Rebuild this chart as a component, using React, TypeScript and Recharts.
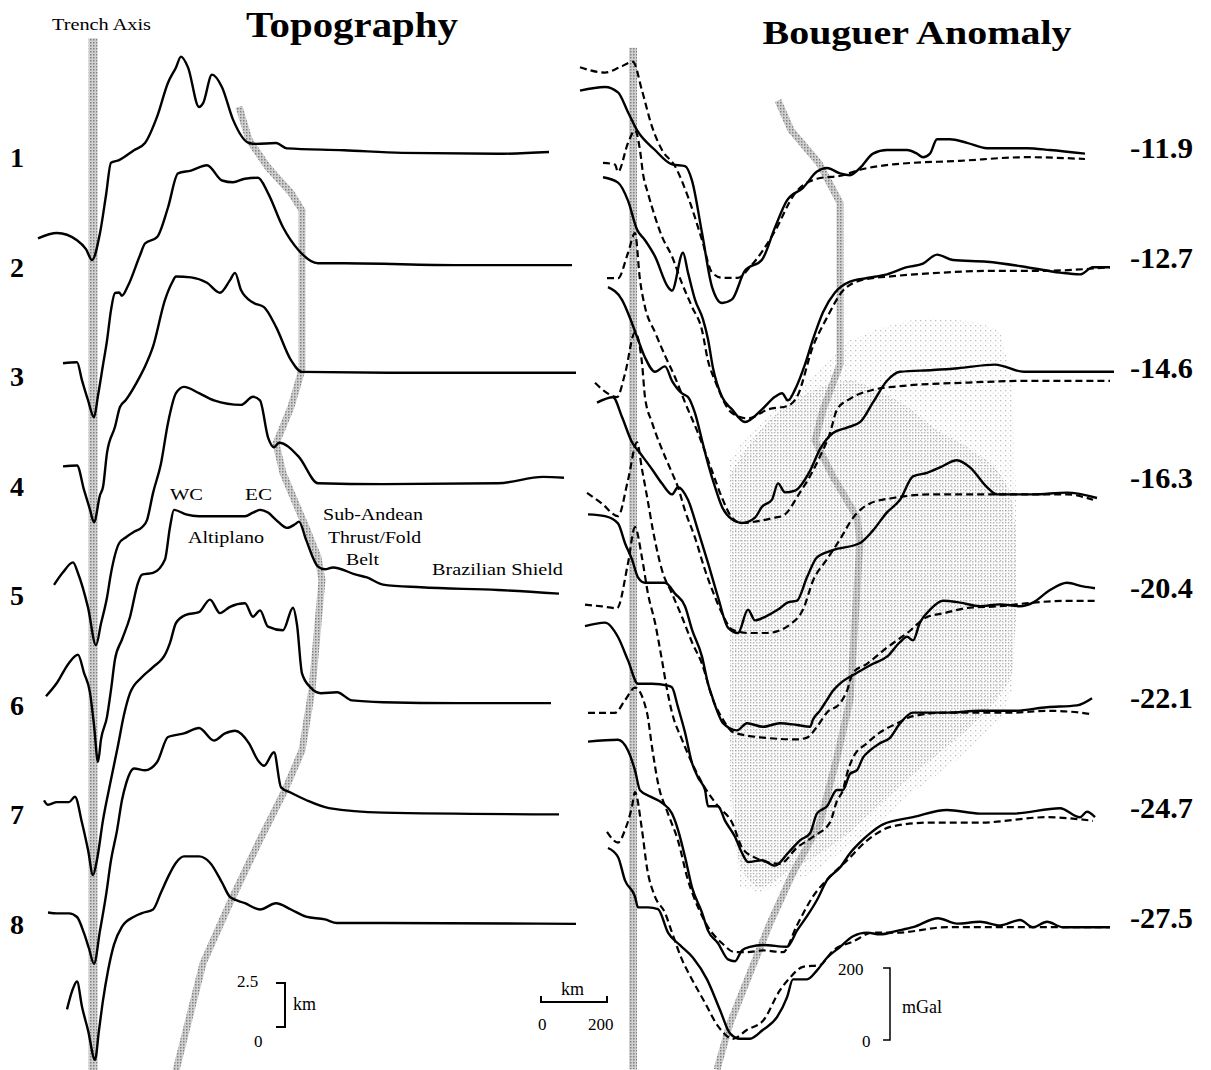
import { Area, ComposedChart, Line, XAxis, YAxis } from "recharts"

type Pt = [number, number]

// topography profiles: [distance from trench (km), elevation (km)]
const topo1: Pt[] = [[-165,-4.6],[-108,-4.3],[-48,-4.7],[-21,-5.2],[-3,-5.8],[21,-4.3],[39,-2.2],[54,-0.4],[78,-0.25],[123,0.3],[156,0.7],[192,2.15],[225,4.05],[249,4.9],[264,5.5],[285,4.9],[318,2.7],[330,2.9],[357,4.5],[387,3.8],[420,2.0],[468,0.7],[489,0.65],[549,0.7],[582,0.4],[753,0.3],[927,0.15],[1215,0.1],[1368,0.2]]
const topo2: Pt[] = [[-90,-5.4],[-48,-5.35],[-33,-6.35],[-15,-7.45],[3,-8.4],[15,-7.2],[30,-5.5],[42,-4.15],[54,-2.45],[66,-1.5],[78,-1.47],[87,-1.65],[105,-1.1],[141,0.6],[156,1.25],[192,1.6],[225,3.25],[255,5.15],[294,5.3],[342,5.6],[387,4.75],[420,4.65],[456,4.85],[495,4.9],[525,4.05],[570,2.15],[618,0.85],[675,0.15],[753,0.15],[1098,0.05],[1437,0.05]]
const topo3: Pt[] = [[-90,-5.0],[-48,-4.95],[-27,-6.3],[-9,-7.4],[3,-8.1],[21,-6.6],[30,-6.15],[42,-4.25],[66,-2.8],[81,-1.7],[99,-1.3],[141,0.0],[156,0.55],[180,1.65],[216,4.25],[237,5.2],[249,5.55],[294,5.5],[342,5.2],[381,4.65],[411,5.35],[426,5.75],[444,4.8],[480,4.1],[513,3.85],[549,2.75],[594,0.9],[627,0.25],[921,0.2],[1449,0.2]]
const topo4: Pt[] = [[-117,-5.45],[-90,-4.75],[-60,-4.2],[-45,-4.8],[-15,-6.7],[9,-8.8],[24,-7.6],[42,-6.15],[54,-4.8],[78,-3.15],[99,-2.8],[123,-2.5],[147,-2.25],[162,-1.85],[180,-0.35],[204,1.3],[225,3.55],[249,5.2],[273,5.55],[318,5.2],[363,4.8],[444,4.55],[480,5.0],[501,4.8],[525,2.75],[543,2.2],[558,2.45],[618,1.65],[675,0.2],[870,0.15],[1215,0.2],[1350,0.55],[1413,0.5]]
const topo5: Pt[] = [[-141,-5.5],[-108,-4.75],[-72,-3.65],[-45,-3.2],[-27,-4.2],[-9,-5.3],[3,-7.1],[15,-9.15],[24,-7.9],[42,-6.65],[54,-5.15],[66,-3.45],[87,-2.35],[111,-1.1],[135,0.8],[147,1.25],[180,1.35],[216,2.1],[231,3.9],[243,4.85],[279,4.6],[318,4.5],[411,4.5],[456,4.5],[480,4.7],[501,4.85],[525,4.7],[549,4.3],[582,3.85],[606,4.05],[618,4.2],[639,3.2],[675,1.7],[696,1.55],[720,1.65],[789,1.25],[822,1.1],[870,0.7],[984,0.55],[1215,0.4],[1398,0.2]]
const topo6: Pt[] = [[-147,-5.15],[-135,-5.4],[-108,-5.25],[-72,-5.25],[-54,-4.95],[-33,-6.4],[-15,-7.9],[0,-9.3],[12,-8.45],[30,-6.25],[54,-4.0],[75,-2.1],[93,-0.4],[111,0.8],[147,1.7],[180,2.25],[219,3.05],[231,3.6],[249,4.7],[279,5.15],[318,5.3],[351,6.0],[381,5.25],[411,5.6],[456,5.8],[480,5.05],[501,5.4],[525,4.5],[570,4.3],[600,5.55],[612,4.6],[627,1.9],[651,1.15],[684,0.8],[732,0.85],[777,0.4],[870,0.3],[1098,0.25],[1374,0.25]]
const topo7: Pt[] = [[-135,-5.25],[-108,-5.3],[-72,-5.3],[-48,-5.5],[-27,-6.4],[-12,-7.25],[3,-8.1],[21,-6.25],[39,-4.3],[54,-2.35],[72,-0.7],[87,1.0],[99,1.9],[123,2.75],[156,2.65],[192,3.1],[225,4.5],[246,4.6],[273,4.7],[318,5.0],[363,4.3],[396,4.7],[426,4.85],[468,4.15],[495,3.2],[513,2.9],[543,3.65],[564,1.7],[594,1.4],[639,1.0],[708,0.55],[870,0.3],[1398,0.2]]
const topo8: Pt[] = [[-78,-4.5],[-63,-3.5],[-48,-2.95],[-33,-4.35],[-15,-5.65],[6,-7.3],[18,-5.65],[30,-4.0],[45,-2.35],[63,-0.9],[87,0.1],[123,0.65],[147,0.85],[180,1.05],[204,2.0],[225,2.85],[249,3.65],[273,4.0],[318,4.0],[351,3.65],[387,2.55],[411,1.75],[456,1.4],[501,1.05],[549,1.4],[594,1.05],[639,0.65],[696,0.5],[732,0.3],[870,0.3],[1449,0.25]]
const topoProfiles = [topo1, topo2, topo3, topo4, topo5, topo6, topo7, topo8]
const profileNames = ["1", "2", "3", "4", "5", "6", "7", "8"]

// Bouguer anomaly: [distance from trench (km), mGal], observed and model
const boug1Obs: Pt[] = [[-159,165],[-84,175],[-45,160],[-15,105],[12,55],[66,0],[117,-40],[156,-45],[177,-85],[207,-230],[237,-380],[267,-425],[297,-415],[336,-335],[387,-305],[426,-215],[462,-140],[510,-105],[552,-60],[582,-50],[621,-65],[651,-70],[681,-50],[720,-10],[762,0],[822,0],[852,-10],[870,-20],[891,-10],[912,30],[951,30],[1002,20],[1062,5],[1182,5],[1251,0],[1356,-10]]
const boug1Mod: Pt[] = [[-159,230],[-84,215],[-39,230],[0,245],[27,165],[57,65],[87,0],[126,-45],[165,-130],[207,-250],[237,-340],[267,-355],[315,-355],[351,-325],[423,-230],[486,-120],[552,-80],[630,-70],[681,-55],[780,-40],[981,-30],[1182,-20],[1356,-25]]
const boug2Obs: Pt[] = [[-90,230],[-45,215],[-15,165],[12,85],[36,55],[66,10],[105,-75],[117,-85],[150,20],[165,-35],[186,-110],[210,-165],[225,-220],[240,-300],[267,-380],[297,-415],[336,-450],[387,-415],[426,-380],[447,-370],[465,-390],[486,-360],[516,-290],[540,-220],[570,-145],[606,-90],[651,-60],[702,-50],[762,-40],[822,-20],[870,-10],[912,15],[960,0],[1062,-5],[1182,-20],[1281,-35],[1341,-40],[1380,-20],[1431,-20]]
const boug2Mod: Pt[] = [[-90,270],[-54,265],[-45,245],[-15,325],[6,360],[21,305],[30,240],[45,185],[66,120],[87,65],[117,10],[147,-65],[177,-130],[207,-195],[225,-280],[246,-335],[297,-425],[345,-440],[405,-415],[465,-405],[492,-380],[540,-240],[582,-160],[630,-85],[690,-55],[780,-45],[930,-35],[1080,-30],[1230,-30],[1431,-20]]
const boug3Obs: Pt[] = [[-75,230],[-33,195],[-3,130],[15,85],[36,35],[66,-5],[96,10],[117,-30],[147,-65],[165,-75],[186,-120],[207,-195],[225,-260],[246,-325],[267,-380],[297,-415],[327,-425],[366,-410],[387,-380],[417,-360],[435,-315],[456,-340],[486,-335],[531,-280],[561,-220],[600,-175],[642,-160],[681,-145],[720,-90],[762,-30],[801,-5],[900,0],[975,5],[1086,15],[1173,-5],[1281,-5],[1443,-5]]
const boug3Mod: Pt[] = [[-78,255],[-45,255],[-15,325],[6,380],[21,250],[36,175],[66,105],[96,40],[126,-20],[156,-90],[195,-175],[237,-280],[267,-355],[297,-410],[327,-425],[375,-420],[426,-410],[450,-405],[501,-340],[531,-295],[561,-240],[591,-175],[612,-110],[651,-80],[720,-55],[801,-45],[1002,-35],[1200,-30],[1431,-30]]
const boug4Obs: Pt[] = [[-108,215],[-60,230],[-33,175],[-3,105],[21,75],[57,30],[87,-10],[117,-40],[135,-20],[165,-55],[195,-140],[225,-230],[255,-325],[285,-410],[315,-425],[345,-360],[366,-390],[396,-380],[435,-360],[465,-340],[492,-335],[522,-270],[552,-215],[600,-195],[681,-175],[720,-140],[762,-90],[801,-55],[840,10],[882,20],[921,35],[972,55],[1011,35],[1062,-20],[1092,-40],[1200,-40],[1302,-35],[1392,-50]]
const boug4Mod: Pt[] = [[-114,270],[-75,240],[-48,230],[-24,295],[6,410],[27,325],[36,230],[57,160],[87,85],[117,20],[135,-20],[156,-85],[186,-160],[216,-250],[246,-325],[267,-370],[297,-415],[345,-425],[402,-425],[480,-395],[510,-360],[540,-280],[582,-220],[621,-165],[660,-105],[711,-65],[780,-50],[900,-40],[1101,-40],[1302,-40],[1380,-55]]
const boug5Obs: Pt[] = [[-135,210],[-84,205],[-45,185],[-24,130],[-3,85],[15,35],[36,20],[96,20],[126,-10],[156,-45],[177,-110],[207,-185],[225,-260],[237,-295],[252,-335],[270,-370],[312,-390],[342,-370],[390,-380],[441,-370],[492,-375],[531,-380],[540,-360],[561,-335],[582,-305],[600,-280],[621,-260],[672,-230],[720,-205],[762,-185],[801,-145],[822,-130],[840,-140],[861,-90],[891,-55],[930,-30],[981,-35],[1041,-45],[1101,-40],[1161,-45],[1200,-35],[1251,0],[1302,20],[1350,10],[1386,5]]
const boug5Mod: Pt[] = [[-138,270],[-93,240],[-45,205],[-15,305],[12,410],[27,335],[42,260],[60,165],[87,55],[117,-10],[147,-75],[177,-145],[207,-205],[240,-305],[270,-360],[300,-395],[390,-410],[492,-415],[522,-410],[552,-380],[582,-340],[621,-315],[642,-280],[660,-230],[702,-205],[762,-160],[822,-120],[882,-75],[930,-65],[1002,-50],[1101,-45],[1200,-35],[1302,-30],[1386,-30]]
const boug6Obs: Pt[] = [[-144,205],[-84,215],[-45,175],[-15,110],[15,45],[57,45],[105,40],[117,35],[135,-20],[156,-90],[177,-175],[195,-215],[216,-250],[225,-295],[255,-295],[276,-335],[306,-380],[327,-425],[345,-450],[387,-445],[426,-460],[465,-425],[501,-390],[531,-370],[552,-315],[582,-295],[612,-250],[630,-250],[651,-205],[672,-195],[690,-160],[711,-140],[741,-120],[771,-105],[801,-65],[840,-35],[942,-35],[1041,-30],[1140,-30],[1242,-20],[1332,-15],[1377,5]]
const boug6Mod: Pt[] = [[-144,265],[-93,260],[-48,255],[-15,380],[6,480],[27,395],[45,295],[66,215],[87,110],[102,30],[117,-35],[147,-110],[177,-175],[207,-230],[255,-295],[297,-340],[327,-410],[360,-435],[441,-455],[492,-410],[540,-380],[591,-340],[612,-280],[630,-250],[642,-205],[660,-160],[702,-120],[741,-90],[792,-65],[840,-45],[942,-35],[1041,-35],[1140,-35],[1242,-30],[1341,-35],[1377,-40]]
const boug7Obs: Pt[] = [[-135,190],[-45,195],[-15,165],[6,110],[21,55],[57,35],[87,20],[117,-10],[135,-55],[156,-130],[177,-215],[207,-285],[225,-335],[255,-370],[285,-415],[306,-420],[327,-390],[351,-380],[390,-375],[462,-380],[492,-335],[522,-295],[552,-250],[582,-195],[621,-160],[651,-120],[681,-90],[711,-65],[750,-40],[840,-20],[942,0],[1041,-10],[1140,-10],[1281,5],[1341,-20],[1362,-5],[1386,-20]]
const boug7Mod: Pt[] = [[-135,270],[-54,270],[-24,305],[6,340],[42,270],[57,175],[75,75],[105,-10],[135,-85],[165,-195],[195,-270],[225,-325],[267,-370],[306,-395],[345,-395],[390,-390],[450,-395],[492,-320],[540,-240],[591,-185],[642,-140],[702,-85],[780,-45],[891,-35],[1041,-35],[1242,-20],[1380,-30]]
const boug8Obs: Pt[] = [[-75,200],[-45,175],[-24,110],[6,65],[15,35],[45,35],[75,30],[105,-35],[141,-70],[180,-105],[222,-165],[261,-250],[291,-315],[321,-330],[351,-330],[390,-305],[432,-270],[462,-215],[480,-165],[522,-165],[552,-140],[582,-105],[621,-75],[660,-45],[702,-35],[741,-40],[792,-30],[840,-20],[915,5],[972,-10],[1041,-5],[1101,-15],[1161,0],[1200,-20],[1242,-5],[1290,-20],[1431,-20]]
const boug8Mod: Pt[] = [[-78,245],[-45,215],[-24,250],[-3,315],[6,355],[27,250],[42,145],[66,65],[96,20],[117,-35],[147,-110],[177,-165],[216,-230],[255,-295],[300,-330],[342,-305],[390,-280],[441,-195],[471,-160],[510,-130],[561,-125],[600,-85],[660,-60],[720,-35],[792,-35],[942,-20],[1140,-20],[1431,-20]]
const bougObserved = [boug1Obs, boug2Obs, boug3Obs, boug4Obs, boug5Obs, boug6Obs, boug7Obs, boug8Obs]
const bougModel = [boug1Mod, boug2Mod, boug3Mod, boug4Mod, boug5Mod, boug6Mod, boug7Mod, boug8Mod]
const latitudes = ["-11.9", "-12.7", "-14.6", "-16.3", "-20.4", "-22.1", "-24.7", "-27.5"]

// grey guide lines: [distance (km), position down the stack in profile rows]
const topoTrench: Pt[] = [[0, -1.03], [0, 8.32]]
const topoFront: Pt[] = [[438,-0.41],[468,-0.11],[525,0.14],[594,0.37],[627,0.53],[627,1.97],[594,2.31],[549,2.64],[570,2.91],[639,3.4],[675,3.67],[687,3.88],[675,4.27],[657,4.87],[627,5.42],[576,5.78],[501,6.23],[411,6.8],[330,7.35],[249,8.32]]
const bougTrench: Pt[] = [[0, -0.93], [0, 8.36]]
const bougFront: Pt[] = [[435,-0.45],[474,-0.18],[558,0.12],[621,0.48],[621,1.95],[570,2.36],[546,2.64],[600,2.97],[672,3.34],[681,3.55],[669,4.15],[651,5.0],[612,5.52],[561,6.12],[480,6.57],[411,7.03],[342,7.55],[291,7.94],[252,8.36]]

// stippled zone on the gravity panel: [distance (km)] with top / bottom rows
const shadeDist = [291, 321, 381, 471, 531, 651, 741, 831, 891, 1026, 1101, 1137, 1149]
const shadeTop = [2.82, 2.68, 2.5, 2.23, 2.07, 1.73, 1.62, 1.55, 1.53, 1.56, 1.64, 2.09, 3.18]
const shadeBottom = [5.91, 6.7, 6.75, 6.64, 6.59, 6.32, 6.11, 5.85, 5.73, 5.41, 5.18, 4.91, 4.27]
// denser core of the stippled zone
const coreTop = [2.95, 2.8, 2.55, 2.3, 2.2, 2.1, 2.2, 2.35, 2.5, 2.75, 2.95, 3.2, 3.5]
const coreBottom = [5.6, 6.5, 6.7, 6.55, 6.45, 6.2, 5.95, 5.7, 5.55, 5.2, 4.95, 4.75, 4.2]

const W = 1211
const H = 1070
const KM_PER_PX = 3
const SERIF = "'Liberation Serif', 'Times New Roman', serif"

// left panel scale
const TOPO_W = 600
const TOPO_TRENCH_PX = 93
const TOPO_PX_PER_KM = 18
const TOPO_ROW_PX = 110.4
const TOPO_ROW0_PX = 152
const TOPO_BASE = 0.2
const topoRow = TOPO_ROW_PX / TOPO_PX_PER_KM
const topoTop = TOPO_BASE + TOPO_ROW0_PX / TOPO_PX_PER_KM

// right panel scale
const BOUG_LEFT = 570
const BOUG_W = 641
const BOUG_TRENCH_PX = 633
const BOUG_PX_PER_MGAL = 0.36
const BOUG_ROW_PX = 110
const BOUG_ROW0_PX = 150
const bougRow = BOUG_ROW_PX / BOUG_PX_PER_MGAL
const bougTop = BOUG_ROW0_PX / BOUG_PX_PER_MGAL

const shift = (pts: Pt[], off: number) => pts.map(([x, v]) => ({ x, y: v - off }))
const topoRows = (pts: Pt[]) => pts.map(([x, r]) => ({ x, y: TOPO_BASE - r * topoRow }))
const bougRows = (pts: Pt[]) => pts.map(([x, r]) => ({ x, y: -r * bougRow }))
const shadeData = shadeDist.map((x, i) => ({
  x,
  outer: [-shadeBottom[i] * bougRow, -shadeTop[i] * bougRow],
  core: [-coreBottom[i] * bougRow, -coreTop[i] * bougRow],
}))

const solid = {
  stroke: "#000",
  strokeWidth: 2.4,
  dot: false,
  activeDot: false,
  isAnimationActive: false,
  type: "monotone" as const,
}
const band = {
  dot: false,
  activeDot: false,
  isAnimationActive: false,
  type: "linear" as const,
  stroke: "url(#greyBand)",
}

function TopoPanel() {
  return (
    <ComposedChart
      width={TOPO_W}
      height={H}
      data={[]}
      margin={{ top: 0, right: 0, bottom: 0, left: 0 }}
      style={{ position: "absolute", left: 0, top: 0 }}
    >
      <XAxis
        type="number"
        dataKey="x"
        hide
        allowDataOverflow
        domain={[-TOPO_TRENCH_PX * KM_PER_PX, (TOPO_W - TOPO_TRENCH_PX) * KM_PER_PX]}
      />
      <YAxis type="number" hide allowDataOverflow domain={[topoTop - H / TOPO_PX_PER_KM, topoTop]} />
      <Line data={topoRows(topoTrench)} dataKey="y" {...band} strokeWidth={9} />
      <Line data={topoRows(topoFront)} dataKey="y" {...band} strokeWidth={7} />
      {topoProfiles.map((p, i) => (
        <Line key={i} data={shift(p, i * topoRow)} dataKey="y" {...solid} />
      ))}
    </ComposedChart>
  )
}

function BougPanel() {
  return (
    <ComposedChart
      width={BOUG_W}
      height={H}
      data={shadeData}
      margin={{ top: 0, right: 0, bottom: 0, left: 0 }}
      style={{ position: "absolute", left: BOUG_LEFT, top: 0 }}
    >
      <XAxis
        type="number"
        dataKey="x"
        hide
        allowDataOverflow
        domain={[-(BOUG_TRENCH_PX - BOUG_LEFT) * KM_PER_PX, (BOUG_LEFT + BOUG_W - BOUG_TRENCH_PX) * KM_PER_PX]}
      />
      <YAxis type="number" hide allowDataOverflow domain={[bougTop - H / BOUG_PX_PER_MGAL, bougTop]} />
      <Area dataKey="outer" type="linear" stroke="none" fill="url(#stippleLight)" activeDot={false} isAnimationActive={false} />
      <Area dataKey="core" type="monotone" stroke="none" fill="url(#stippleDense)" activeDot={false} isAnimationActive={false} />
      <Line data={bougRows(bougTrench)} dataKey="y" {...band} strokeWidth={8} />
      <Line data={bougRows(bougFront)} dataKey="y" {...band} strokeWidth={7} />
      {bougModel.map((p, i) => (
        <Line key={"m" + i} data={shift(p, i * bougRow)} dataKey="y" {...solid} strokeWidth={2.2} strokeDasharray="7 4" />
      ))}
      {bougObserved.map((p, i) => (
        <Line key={"o" + i} data={shift(p, i * bougRow)} dataKey="y" {...solid} />
      ))}
    </ComposedChart>
  )
}

function Labels() {
  const small = { fontFamily: SERIF, fontSize: 17, lengthAdjust: "spacingAndGlyphs" as const }
  const big = { fontFamily: SERIF, fontWeight: 700, lengthAdjust: "spacingAndGlyphs" as const }
  return (
    <svg width={W} height={H} style={{ position: "absolute", left: 0, top: 0, pointerEvents: "none" }}>
      <text x={352} y={37} textAnchor="middle" fontSize={36} textLength={212} {...big}>Topography</text>
      <text x={917} y={44} textAnchor="middle" fontSize={34} textLength={309} {...big}>Bouguer Anomaly</text>
      <text x={52} y={30} textLength={99} {...small}>Trench Axis</text>
      {profileNames.map((n, i) => (
        <text key={n} x={10} y={167 + i * 109.5} fontSize={28} {...big}>{n}</text>
      ))}
      {latitudes.map((l, i) => (
        <text key={l} x={1130} y={158 + i * 110} fontSize={29} textLength={63} {...big}>{l}</text>
      ))}
      <text x={170} y={500} textLength={33} {...small}>WC</text>
      <text x={245} y={500} textLength={27} {...small}>EC</text>
      <text x={188} y={543} textLength={76} {...small}>Altiplano</text>
      <text x={323} y={520} textLength={100} {...small}>Sub-Andean</text>
      <text x={328} y={543} textLength={93} {...small}>Thrust/Fold</text>
      <text x={346} y={565} textLength={33} {...small}>Belt</text>
      <text x={432} y={575} textLength={131} {...small}>Brazilian Shield</text>

      <text x={237} y={987} {...small}>2.5</text>
      <text x={254} y={1047} {...small}>0</text>
      <path d="M276 983 H285 V1027 H276" fill="none" stroke="#000" strokeWidth={2} />
      <text x={293} y={1010} {...small} fontSize={18}>km</text>

      <text x={561} y={995} {...small} fontSize={18}>km</text>
      <path d="M541 996 V1002 H607 V996" fill="none" stroke="#000" strokeWidth={2} />
      <text x={538} y={1030} {...small}>0</text>
      <text x={588} y={1030} {...small}>200</text>

      <text x={838} y={975} {...small}>200</text>
      <text x={862} y={1047} {...small}>0</text>
      <path d="M883 968 H890 V1040 H883" fill="none" stroke="#000" strokeWidth={1.5} />
      <text x={902} y={1013} {...small} fontSize={18}>mGal</text>
    </svg>
  )
}

export default function App() {
  return (
    <div style={{ position: "absolute", left: 0, top: 0, width: W, height: H, background: "#fff", overflow: "hidden" }}>
      <svg width={0} height={0} style={{ position: "absolute" }}>
        <defs>
          <pattern id="greyBand" width="3" height="3" patternUnits="userSpaceOnUse">
            <rect width="3" height="3" fill="#d0d0d0" />
            <rect width="1.5" height="1.5" fill="#808080" />
          </pattern>
          <pattern id="stippleLight" width="5" height="5" patternUnits="userSpaceOnUse">
            <rect width="1.3" height="1.3" fill="#8f8f8f" />
            <rect x="2.5" y="2.5" width="1.1" height="1.1" fill="#bdbdbd" />
          </pattern>
          <pattern id="stippleDense" width="3" height="3" patternUnits="userSpaceOnUse">
            <rect width="1.4" height="1.4" fill="#8c8c8c" />
          </pattern>
        </defs>
      </svg>
      <TopoPanel />
      <BougPanel />
      <Labels />
    </div>
  )
}
